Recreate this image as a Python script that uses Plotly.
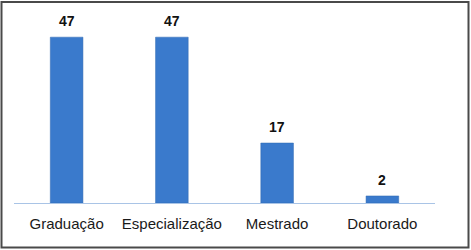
import plotly.graph_objects as go

categories = ["Graduação", "Especialização", "Mestrado", "Doutorado"]
values = [47, 47, 17, 2]

W, H = 471, 250
ml, mr, mt, mb = 14, 36, 10, 47
pw = W - ml - mr
ph = H - mt - mb

def px_x(x):
    return (x - ml) / pw

def px_y(y):
    return (H - mb - y) / ph

fig = go.Figure(go.Bar(
    x=categories, y=values,
    marker=dict(color="#3A7ACC", line=dict(color="#2F68B0", width=0.5)),
    width=0.31,
    cliponaxis=False,
))

annotations = [
    dict(x=c, y=v, xref="x", yref="y", text="<b>" + str(v) + "</b>", showarrow=False,
         yanchor="bottom", yshift=6,
         font=dict(family="Liberation Sans, Arial", size=14, color="#111111"))
    for c, v in zip(categories, values)
]

fig.update_layout(
    width=W, height=H,
    margin=dict(l=ml, r=mr, t=mt, b=mb),
    paper_bgcolor="white", plot_bgcolor="white",
    showlegend=False,
    annotations=annotations,
    xaxis=dict(showline=True, linecolor="#A9C4E6", linewidth=1, ticks="",
               ticklabelstandoff=7,
               tickfont=dict(family="Liberation Sans, Arial", size=15, color="#1A1A1A"),
               showgrid=False, zeroline=False),
    yaxis=dict(visible=False, range=[0, 54.7], showgrid=False, zeroline=False),
    shapes=[dict(type="rect", xref="paper", yref="paper",
                 x0=px_x(1.5), x1=px_x(468.5), y0=px_y(247.5), y1=px_y(2),
                 line=dict(color="#4A4A4A", width=2), fillcolor="rgba(0,0,0,0)")],
)

fig.write_html("out.html")
